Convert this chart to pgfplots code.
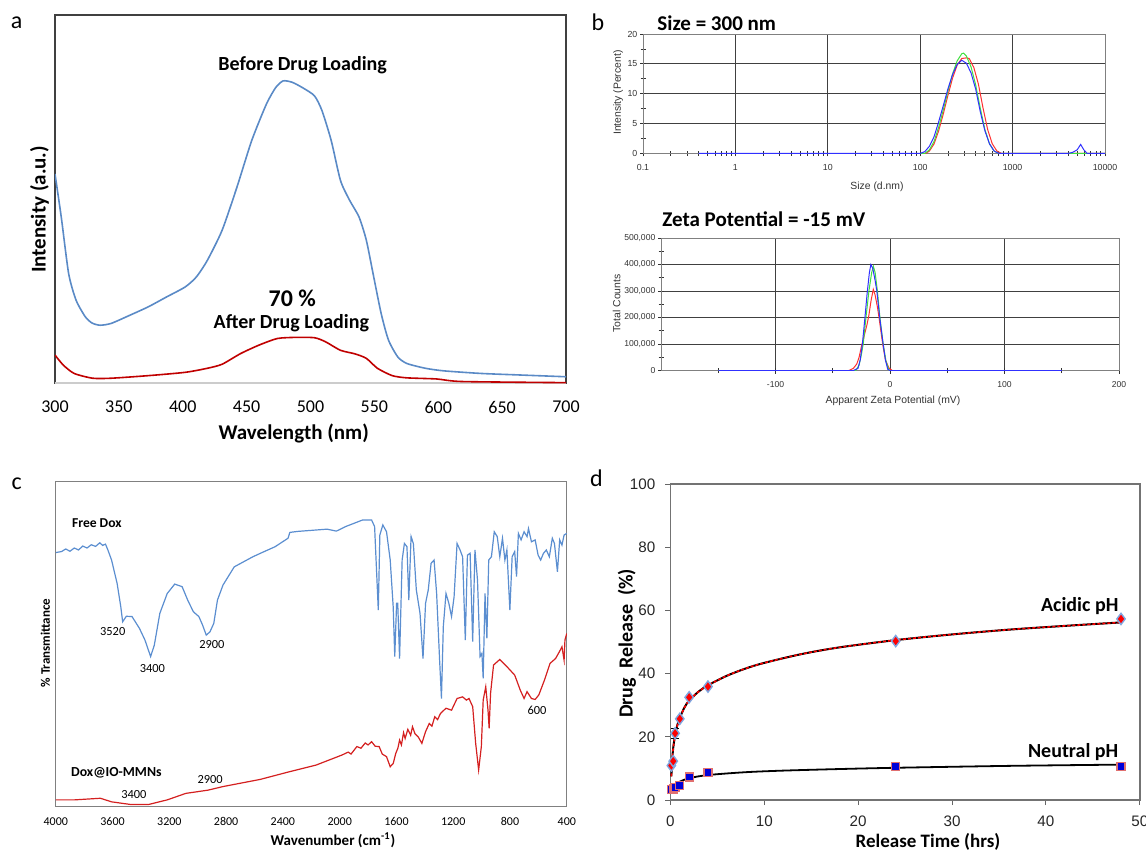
\documentclass[border=0pt]{standalone}
\usepackage{fontspec}
\setmainfont{Carlito}
\newfontfamily\arialf{Liberation Sans}
\usepackage{pgfplots}
\pgfplotsset{compat=1.18, /pgf/number format/1000 sep={}}
\definecolor{ablue}{HTML}{5A8AC6}
\definecolor{ared}{HTML}{C00000}
\definecolor{cblue}{HTML}{5B8ED0}
\definecolor{cred}{HTML}{D42020}
\definecolor{bred}{HTML}{FF3030}
\definecolor{bgreen}{HTML}{40E040}
\definecolor{bblue}{HTML}{3030FF}
\definecolor{mkblue}{HTML}{7FA6E0}
\definecolor{mkred}{HTML}{E07070}
\begin{document}
\begin{tikzpicture}
\path[use as bounding box] (0,0) rectangle (573pt,-426pt);

% ---------------- panel a: UV-vis
\begin{axis}[at={(27.5pt,-7.5pt)}, anchor=north west, scale only axis,
  width=255.5pt, height=184pt,
  xmin=300, xmax=700, ymin=0, ymax=100,
  xtick={300,350,...,700}, ytick=\empty,
  tick style={draw=none},
  axis line style={black!75, line width=0.6pt},
  /pgf/number format/assume math mode=true,
  xticklabel style={font=\fontsize{9}{10}\selectfont, yshift=-5.5pt},
]
\draw[black!20, line width=1.2pt] (rel axis cs:0,0) -- (rel axis cs:1,0);
\addplot[color=ablue, line width=0.8pt, smooth, tension=0.4] coordinates {
(300,56.8)(304.9,45.1)(310.7,29.7)(316.5,22.5)(323.7,18.0)(329,16.3)(335.3,15.7)
(344,16.2)(358.5,18.4)(373,20.7)(387.4,23.4)(401.9,26.1)(410.6,28.8)(419.2,33.3)
(430.8,41.5)(442.4,53.2)(454,65.9)(465.5,75.8)(472.8,80.3)(478.6,82.1)(485.8,81.7)
(494.5,80.1)(503.2,78.0)(509,74.0)(516.2,65.9)(523.5,55.0)(530.7,49.6)(538,45.1)
(543.7,38.8)(549.5,28.8)(555.3,18.9)(561,11.7)(568.3,7.1)(575.5,5.3)(590,4.0)
(604.4,3.3)(633.4,2.6)(662.3,2.2)(700,1.7)};
\addplot[color=ared, line width=0.8pt, smooth, tension=0.4] coordinates {
(300,7.6)(306.4,4.9)(315,2.6)(329.5,1.3)(344,1.3)(373,2.0)(401.9,2.9)(419.2,4.0)
(430.8,5.1)(445.3,8.0)(459.7,10.3)(474.2,12.1)(488.7,12.4)(503.2,12.3)(511.8,11.2)
(523.4,8.9)(535,7.9)(543.7,6.7)(552.4,4.0)(564,2.0)(575.5,1.4)(598.7,1.1)(619,0.4)(700,0.1)};
\node[font=\bfseries\fontsize{10}{12}\selectfont] at (axis cs:493.9,86.4) {Before Drug Loading};
\node[font=\bfseries\fontsize{12}{14}\selectfont] at (axis cs:485.8,22.9) {70 \%};
\node[font=\bfseries\fontsize{10}{12}\selectfont] at (axis cs:485,16.2) {After Drug Loading};
\end{axis}

% ---------------- panel b top: size distribution
\begin{axis}[at={(321.5pt,-17pt)}, anchor=north west, scale only axis,
  width=231pt, height=59.7pt,
  xmode=log, xmin=0.1, xmax=10000, ymin=0, ymax=20,
  xtick={0.1,1,10,100,1000,10000}, xticklabels={0.1,1,10,100,1000,10000},
  minor xtick={0.2,0.3,0.4,0.5,0.6,0.7,0.8,0.9,2,3,4,5,6,7,8,9,20,30,40,50,60,70,80,90,
    200,300,400,500,600,700,800,900,2000,3000,4000,5000,6000,7000,8000,9000},
  ytick={0,5,10,15,20}, minor ytick={2.5,7.5,12.5,17.5},
  tick pos=left, grid=major, major grid style={black!75, line width=0.5pt},
  tick align=center, major tick length=3pt, minor tick length=2.5pt,
  tick style={black!80, line width=0.4pt},
  axis line style={black!50, line width=0.5pt},
  tick label style={font=\arialf\fontsize{4.4}{5}\selectfont, text=black!80},
  /pgf/number format/assume math mode=true,
  xticklabel style={yshift=-0.5pt},
  yticklabel style={xshift=2.2pt},
]
\addplot[color=bred, line width=0.5pt] coordinates {
(100,0)(114.8,0)(125.9,0.4)(141.3,1.6)(158.5,3.8)(177.8,6.6)(199.5,9.7)(223.9,12.6)
(251.2,14.8)(281.8,15.9)(316.2,16.0)(338.8,15.9)(380.2,14.4)(426.6,11.6)(478.6,7.6)
(537.0,4.0)(602.6,1.6)(676.1,0.4)(758.6,0)(10000,0)};
\addplot[color=bgreen, line width=0.5pt] coordinates {
(100,0)(112.2,0)(125.9,0.6)(141.3,2.0)(158.5,4.4)(177.8,7.3)(199.5,10.4)(223.9,13.3)
(251.2,15.5)(281.8,16.7)(295.1,16.8)(316.2,16.3)(354.8,14.5)(398.1,11.5)(446.7,7.6)
(501.2,4.0)(562.3,1.6)(631.0,0.4)(707.9,0)(10000,0)};
\addplot[color=bblue, line width=0.5pt] coordinates {
(0.4,0)(100,0)(112.2,0.3)(125.9,1.2)(141.3,2.8)(158.5,5.3)(177.8,8.0)(199.5,10.8)
(223.9,13.2)(251.2,14.9)(281.8,15.6)(316.2,15.1)(354.8,13.5)(398.1,10.8)(446.7,7.0)
(501.2,3.8)(562.3,1.6)(631.0,0.4)(707.9,0)(4000,0)(4500,0.2)(5000,0.6)(5450,1.5)
(5900,0.6)(6400,0)(10000,0)};
\end{axis}

% ---------------- panel b bottom: zeta potential
\begin{axis}[at={(330.5pt,-119pt)}, anchor=north west, scale only axis,
  width=229pt, height=66.25pt,
  xmin=-200, xmax=200, ymin=0, ymax=500000,
  xtick={-100,0,100,200}, xticklabels={-100,0,100,200},
  minor xtick={-150,-50,50,150},
  ytick={0,100000,200000,300000,400000,500000},
  yticklabels={0,{100,000},{200,000},{300,000},{400,000},{500,000}},
  minor ytick={50000,150000,250000,350000,450000},
  scaled ticks=false,
  tick pos=left, grid=major, major grid style={black!75, line width=0.5pt},
  tick align=center, major tick length=3pt, minor tick length=2.5pt,
  tick style={black!80, line width=0.4pt},
  axis line style={black!50, line width=0.5pt},
  tick label style={font=\arialf\fontsize{4.3}{5}\selectfont, text=black!80},
  /pgf/number format/assume math mode=true,
  xticklabel style={yshift=-0.5pt},
  yticklabel style={xshift=2.2pt},
]
\addplot[color=bred, line width=0.5pt] coordinates {
(-150,0)(-36,0)(-32,8000)(-29,25000)(-27,50000)(-25,90000)(-22,140000)(-20,175000)
(-18.4,210000)(-16.5,265000)(-14.6,306000)(-13,285000)(-11,240000)(-9.6,200000)
(-6.4,100000)(-4,40000)(-1,10000)(2,0)(150,0)};
\addplot[color=bgreen, line width=0.5pt] coordinates {
(-150,0)(-30,0)(-27,20000)(-25,60000)(-23.4,100000)(-21,200000)(-18.4,300000)
(-16,370000)(-14.5,393000)(-13,370000)(-11,300000)(-8.8,200000)(-6,100000)
(-3.5,35000)(-1,3000)(0,0)(150,0)};
\addplot[color=bblue, line width=0.5pt] coordinates {
(-150,0)(-32,0)(-28,8000)(-26,40000)(-24,105000)(-22,195000)(-20,290000)(-18,370000)
(-16.7,400000)(-15,385000)(-13,340000)(-11.5,300000)(-9,200000)(-6,100000)
(-4,40000)(-2,5000)(0,0)(150,0)};
\end{axis}

% ---------------- panel c: FTIR
\begin{axis}[at={(27.9pt,-240.85pt)}, anchor=north west, scale only axis,
  width=255.5pt, height=162.5pt,
  x dir=reverse, xmin=400, xmax=4000, ymin=0, ymax=100,
  xtick={400,800,...,4000}, ytick=\empty,
  tick style={draw=none},
  axis line style={black!50, line width=0.5pt},
  /pgf/number format/assume math mode=true,
  xticklabel style={font=\fontsize{6}{7}\selectfont, yshift=-2pt},
]
\addplot[color=cblue, line width=0.6pt] coordinates {
(4000,78.2)(3960,78.5)(3930,79.3)(3900,78.6)(3870,79.6)(3840,79.0)(3810,80.2)
(3780,79.6)(3750,80.6)(3720,80.1)(3690,81.2)(3670,80.4)(3650,80.8)(3633,79)
(3607,75.9)(3568,68.7)(3542,61.5)(3529,56.9)(3503,58.6)(3463,58.5)(3411,54.9)
(3372,51.3)(3332,46.2)(3306,49.7)(3267,59.5)(3215,65.6)(3162,68.5)(3110,67.7)
(3071,63.6)(3031,60)(2992,58.5)(2966,55.9)(2940,52.8)(2914,53.8)(2887,56.4)
(2861,63.6)(2822,68.2)(2743,73.8)(2612,76.9)(2547,78.2)(2455,80)(2364,82.6)
(2351,84.4)(2298,84.7)(2089,85.4)(2023,84.8)(1958,86.2)(1840,88.2)(1775,88.2)
(1754,86.2)(1728,60.5)(1717,83.6)(1696,86.7)(1670,84.6)(1644,75.9)(1623,61.5)
(1612,46.2)(1599,62.6)(1591,62.6)(1578,45.6)(1560,75.9)(1544,81)(1526,80)
(1513,63.6)(1497,83.1)(1481,81)(1460,66.7)(1434,59.5)(1413,45.6)(1395,62.6)
(1376,66.7)(1356,74.9)(1335,75.9)(1317,65.6)(1296,45.1)(1283,33.3)(1270,55.4)
(1251,65.6)(1231,62.6)(1212,58.5)(1194,64.6)(1173,81)(1152,79)(1134,76.9)
(1115,51.3)(1100,77.4)(1081,78)(1063,50.8)(1047,79)(1029,69.7)(1011,46.2)
(998,47.2)(989,39.5)(976,65.6)(963,51.8)(950,75.9)(931,76.9)(911,84.6)(890,83.1)
(872,76.9)(853,82.6)(836,75.9)(822,79)(801,60.5)(785,76.9)(767,78.5)(754,70.8)
(741,84.1)(722,82.1)(701,84.6)(680,83.1)(670,85.6)(649,81.5)(623,82.1)(602,77.4)
(584,75.9)(565,77.9)(544,79)(523,76.9)(502,82.6)(487,81)(466,72.3)(450,82.1)
(434,80.5)(419,83.6)(400,84.1)};
\addplot[color=cred, line width=0.6pt] coordinates {
(4000,2.1)(3869,2.1)(3686,2.6)(3607,1.5)(3476,0.7)(3345,0.7)(3215,2.1)(3084,4.1)
(2927,5.1)(2822,6.2)(2560,8.4)(2351,10.8)(2167,12.8)(1984,15.9)(1940,16.8)(1920,16.2)
(1879,18.5)(1850,18.0)(1820,19.6)(1800,19.0)(1775,20)(1750,18.6)(1722,18.5)(1700,16.2)
(1670,15.4)(1644,12.3)(1623,13.3)(1605,16.4)(1590,18.0)(1578,20.5)(1565,19.0)
(1550,22.8)(1539,21.0)(1520,23.8)(1500,22.0)(1487,24.6)(1470,22.5)(1447,21.5)
(1421,19.5)(1395,23.1)(1369,25.6)(1350,24.8)(1330,27.7)(1310,26.8)(1290,28.7)
(1251,30.3)(1212,29.7)(1173,33.3)(1134,33.8)(1107,32.8)(1089,33.3)(1063,30.8)
(1042,19.5)(1021,11.3)(1002,18.5)(989,32.8)(971,36.9)(955,29.7)(947,24.1)(937,34.9)
(916,43.6)(872,45.3)(822,43.1)(767,40.5)(728,35.9)(701,33.3)(680,35.4)(649,33.3)
(623,33)(597,34.4)(557,39)(518,44.1)(479,45.6)(452,47.7)(434,49.2)(419,45.1)
(413,51.3)(400,53.3)};
\node[font=\bfseries\fontsize{6.8}{8}\selectfont, anchor=west] at (axis cs:3935,87.2) {Free Dox};
\node[font=\fontsize{6.2}{7}\selectfont] at (axis cs:3599,53.8) {3520};
\node[font=\fontsize{6.2}{7}\selectfont] at (axis cs:3319,42.6) {3400};
\node[font=\fontsize{6.2}{7}\selectfont] at (axis cs:2900,49.9) {2900};
\node[font=\fontsize{6.2}{7}\selectfont] at (axis cs:610,29.7) {600};
\node[font=\bfseries\fontsize{6.9}{8}\selectfont, anchor=west] at (axis cs:3942,10.5) {Dox@IO-MMNs};
\node[font=\fontsize{6.2}{7}\selectfont] at (axis cs:2913,8.5) {2900};
\node[font=\fontsize{6.2}{7}\selectfont] at (axis cs:3450,3.8) {3400};
\end{axis}

% ---------------- panel d: drug release
\begin{axis}[at={(335.2pt,-242pt)}, anchor=north west, scale only axis,
  width=234.7pt, height=158pt,
  xmin=0, xmax=50, ymin=0, ymax=100,
  xtick={0,10,...,50}, ytick={0,20,...,100},
  tick align=outside, tick pos=left, major tick length=2.5pt,
  tick style={black!60, line width=0.5pt},
  axis line style={black!55, line width=0.7pt},
  tick label style={font=\arialf\fontsize{7.6}{9}\selectfont, text=black!85},
  /pgf/number format/assume math mode=true,
  xticklabel style={yshift=-2pt},
  yticklabel style={xshift=-1.5pt},
  clip=false,
]
\addplot[black, line width=1pt, smooth, tension=0.5] coordinates {
(0.1,7.5)(0.2,13)(0.3,16.5)(0.5,20.5)(0.75,23.8)(1,26)(1.5,29.3)(2,31.5)(3,34.3)
(4,36.3)(6,39.3)(8,41.6)(10,43.4)(14,46.2)(18,48.3)(24,50.6)(30,52.4)(36,53.9)
(42,55.1)(48,56.2)};
\addplot[red, line width=0.8pt, dash pattern=on 1.5pt off 1pt, smooth, tension=0.5] coordinates {
(0.1,7.5)(0.2,13)(0.3,16.5)(0.5,20.5)(0.75,23.8)(1,26)(1.5,29.3)(2,31.5)(3,34.3)
(4,36.3)(6,39.3)(8,41.6)(10,43.4)(14,46.2)(18,48.3)(24,50.6)(30,52.4)(36,53.9)
(42,55.1)(48,56.2)};
\addplot[black, line width=0.9pt, smooth, tension=0.5] coordinates {
(0.1,2.5)(0.3,4.0)(0.5,4.8)(1,5.8)(2,6.9)(4,7.9)(8,8.8)(12,9.3)(18,9.8)(24,10.2)
(36,10.8)(48,11.2)};
\addplot[draw=none, mark=none,
  error bars/.cd, y dir=both, y explicit,
  error bar style={black, line width=0.5pt}] coordinates {
(0.5,21.1) +- (0,1.6)};
\addplot[only marks, mark=diamond*, mark size=2.8pt,
  mark options={fill=red, draw=mkblue, line width=0.7pt}] coordinates {
(0.1,10.9)(0.3,12.3)(0.5,21.1)(1,25.7)(2,32.5)(4,35.9)(24,50.3)(48,57.3)};
\addplot[only marks, mark=square*, mark size=2pt,
  mark options={fill=blue!85!black, draw=mkred, line width=0.6pt}] coordinates {
(0.1,3.2)(0.3,3.5)(0.5,4.0)(1,4.6)(2,7.3)(4,8.8)(24,10.6)(48,10.6)};
\node[font=\bfseries\fontsize{10}{12}\selectfont] at (axis cs:43.6,61.4) {Acidic pH};
\node[font=\bfseries\fontsize{10}{12}\selectfont] at (axis cs:42.9,15.3) {Neutral pH};
\end{axis}

% ---------------- labels and titles
\node[font=\fontsize{12}{14}\selectfont] at (8.35pt,-11.5pt) {a};
\node[font=\fontsize{12}{14}\selectfont] at (299pt,-11.35pt) {b};
\node[font=\fontsize{12}{14}\selectfont] at (8.35pt,-242pt) {c};
\node[font=\fontsize{12}{14}\selectfont] at (298.2pt,-239.15pt) {d};

\node[font=\bfseries\fontsize{10.5}{12}\selectfont] at (146.85pt,-216.5pt) {Wavelength (nm)};
\node[font=\bfseries\fontsize{10.5}{12}\selectfont, rotate=90] at (19.8pt,-104.75pt) {Intensity (a.u.)};

\node[font=\bfseries\fontsize{10.5}{12}\selectfont, anchor=west, inner sep=0pt] at (328.5pt,-11.5pt) {Size = 300 nm};
\node[font=\arialf\fontsize{5.2}{6}\selectfont, text=black!80, rotate=90] at (309.15pt,-46.3pt) {Intensity (Percent)};
\node[font=\arialf\fontsize{5.2}{6}\selectfont, text=black!80] at (438.5pt,-93.35pt) {Size (d.nm)};

\node[font=\bfseries\fontsize{10.5}{12}\selectfont, anchor=west, inner sep=0pt] at (331pt,-109.65pt) {Zeta Potential = -15 mV};
\node[font=\arialf\fontsize{5.2}{6}\selectfont, text=black!80, rotate=90] at (308.35pt,-151.65pt) {Total Counts};
\node[font=\arialf\fontsize{5.2}{6}\selectfont, text=black!80] at (446.5pt,-200.35pt) {Apparent Zeta Potential (mV)};

\node[font=\bfseries\fontsize{7.5}{9}\selectfont] at (166.5pt,-420pt) {Wavenumber (cm\textsuperscript{-1})};
\node[font=\bfseries\fontsize{6.5}{8}\selectfont, rotate=90] at (22.7pt,-321.5pt) {\% Transmittance};

\node[font=\bfseries\fontsize{9.5}{11}\selectfont] at (464pt,-420.85pt) {Release Time (hrs)};
\node[font=\bfseries\fontsize{10}{12}\selectfont, rotate=90] at (313.4pt,-321.65pt) {Drug~~Release~~(\%)};
\end{tikzpicture}
\end{document}
